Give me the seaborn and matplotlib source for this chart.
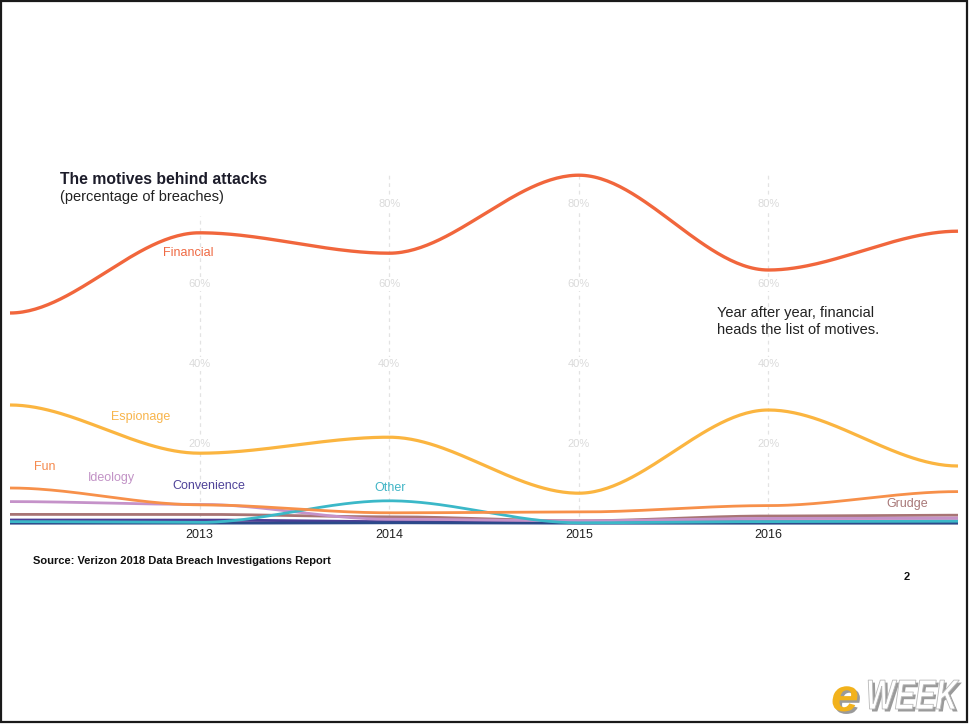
import numpy as np
import pandas as pd
import matplotlib
matplotlib.use("Agg")
import matplotlib.pyplot as plt
import seaborn as sns
from matplotlib.patches import Rectangle, PathPatch
from matplotlib.textpath import TextPath
from matplotlib.font_manager import FontProperties
from matplotlib.transforms import Affine2D

# ---------------- data ----------------
years = [2012, 2013, 2014, 2015, 2016, 2017]
tick_years = [2013, 2014, 2015, 2016]
tick_labels = ["2013", "2014", "2015", "2016"]
pct_levels = [20, 40, 60, 80]
pct_labels = ["20%", "40%", "60%", "80%"]

financial = [52.75, 72.8, 67.7, 87.2, 63.5, 73.2]
espionage = [29.75, 17.7, 21.7, 7.7, 28.5, 14.5]
fun = [9.0, 4.8, 2.8, 3.0, 4.6, 8.1]
ideology = [5.6, 4.9, 1.2, 0.8, 1.4, 1.5]
grudge = [2.4, 2.4, 1.8, 0.8, 2.0, 2.2]
convenience = [1.0, 1.0, 0.6, 0.4, 0.5, 0.5]
other = [0.6, 0.4, 5.8, 0.3, 0.6, 0.7]
fear = [0.2, 0.2, 0.3, 0.2, 0.2, 0.2]
secondary = [0.5, 0.5, 0.5, 0.4, 1.0, 1.2]

series_names = ["Grudge", "Secondary", "Convenience", "Fear", "Ideology", "Other",
                "Fun", "Espionage", "Financial"]
series_vals = [grudge, secondary, convenience, fear, ideology, other,
               fun, espionage, financial]
colors = {
    "Financial": "#f1663c",
    "Espionage": "#fbb540",
    "Fun": "#f7904a",
    "Ideology": "#c592c9",
    "Convenience": "#4d3e96",
    "Other": "#3bb8c8",
    "Grudge": "#a87474",
    "Fear": "#2c4a8a",
    "Secondary": "#e0a0c8",
}
widths = {"Financial": 2.4, "Espionage": 2.3}

# ---------------- smooth curve (zero-tangent Hermite through the points) --------
def smooth(xs, ys, n=60):
    xo, yo = [], []
    for i in range(len(xs) - 1):
        u = np.linspace(0, 1, n, endpoint=(i == len(xs) - 2))
        h = 3 * u**2 - 2 * u**3
        xo.extend(xs[i] + (xs[i + 1] - xs[i]) * u)
        yo.extend(ys[i] + (ys[i + 1] - ys[i]) * h)
    return np.array(xo), np.array(yo)

frames = []
for name, vals in zip(series_names, series_vals):
    sx, sy = smooth(years, vals)
    frames.append(pd.DataFrame({"year": sx, "pct": sy, "motive": name}))
df = pd.concat(frames, ignore_index=True)

# ---------------- figure ----------------
sns.set_theme(style="white")
plt.rcParams["font.family"] = ["Liberation Sans", "DejaVu Sans"]

W, H = 970, 725
fig = plt.figure(figsize=(W / 100, H / 100), dpi=100)
fig.patch.set_facecolor("white")

def fx(px):
    return px / W

def fy(py):
    return 1 - py / H

ax = fig.add_axes([fx(10), fy(524), fx(958) - fx(10), 400 / H])
ax.set_xlim(2012, 2017)
ax.set_ylim(0, 100)
for sp in ax.spines.values():
    sp.set_visible(False)
ax.set_facecolor("none")

# grid lines and percentage labels
for yr in tick_years:
    top = 77 if yr == 2013 else 88
    ax.plot([yr, yr], [0, top], ls=(0, (3, 3)), color="#e3e3e3", lw=0.9, zorder=0)
    for lvl, lab in zip(pct_levels, pct_labels):
        if (yr == 2013 and lvl == 80) or (yr == 2014 and lvl == 20):
            continue
        ax.text(yr, lvl, lab, ha="center", va="center", fontsize=8,
                color="#dadada", zorder=1,
                bbox=dict(facecolor="white", edgecolor="none", pad=1.5))

# lines
for i, name in enumerate(series_names):
    sub = df[df["motive"] == name]
    sns.lineplot(data=sub, x="year", y="pct", ax=ax, color=colors[name],
                 lw=widths.get(name, 2.0), sort=False, legend=False,
                 estimator=None, zorder=3 + i, clip_on=False,
                 solid_capstyle="butt")

ax.set_xticks(tick_years)
ax.set_xticklabels(tick_labels)
ax.set_yticks([])
ax.tick_params(axis="x", length=0, pad=3.5, labelsize=9, labelcolor="#222222")
ax.set_xlabel("")
ax.set_ylabel("")

# series labels
lab_pos = {
    "Financial": (163, 253, "#ef6a44"),
    "Espionage": (111, 417, "#f8b54c"),
    "Fun": (34, 467, "#f58a4e"),
    "Ideology": (88, 478, "#c293c6"),
    "Convenience": (172, 486, "#4f4399"),
    "Other": (374, 488, "#41b5c6"),
    "Grudge": (886, 504, "#a87878"),
}
for name, (px, py, c) in lab_pos.items():
    fig.text(fx(px), fy(py), name, ha="left", va="center", fontsize=9, color=c)

# titles and notes
fig.text(fx(60), fy(180), "The motives behind attacks", ha="left", va="center",
         fontsize=11.3, fontweight="bold", color="#1c1c2a")
fig.text(fx(60), fy(197), "(percentage of breaches)", ha="left", va="center",
         fontsize=10.5, color="#222222")
fig.text(fx(717), fy(313), "Year after year, financial", ha="left", va="center",
         fontsize=10.5, color="#222222")
fig.text(fx(717), fy(330), "heads the list of motives.", ha="left", va="center",
         fontsize=10.5, color="#222222")
fig.text(fx(33), fy(561), "Source: Verizon 2018 Data Breach Investigations Report",
         ha="left", va="center", fontsize=8.0, fontweight="bold", color="#111111")
fig.text(fx(907), fy(577), "2", ha="center", va="center", fontsize=8,
         fontweight="bold", color="#111111")

# eWEEK logo
fp = FontProperties(family="Liberation Sans", weight="bold", style="italic")
def logo_text(s, x_px, y_px, sx, sy, face, shadow):
    tp = TextPath((0, 0), s, size=10, prop=fp)
    for dx, dy, c, z in [(2.5, -2.5, shadow, 20), (0, 0, face, 21)]:
        tr = Affine2D().scale(sx, sy).translate(x_px + dx, (H - y_px) + dy)
        patch = PathPatch(tp, transform=tr, facecolor=c,
                          edgecolor="#b8b8b8" if (c == face and face == "white") else "none",
                          lw=0.6, zorder=z)
        fig.patches.append(patch)

logo_text("e", 831, 711, 5.0, 4.6, "#f2b21c", "#9a9a9a")
logo_text("WEEK", 866, 709, 3.05, 4.2, "white", "#9a9a9a")

# frame
fig.patches.append(Rectangle((fx(1), fy(722)), fx(966), 721 / H, transform=fig.transFigure,
                             fill=False, edgecolor="#1a1a1a", lw=1.6, zorder=30))

fig.savefig("out.png", dpi=100, facecolor="white")
